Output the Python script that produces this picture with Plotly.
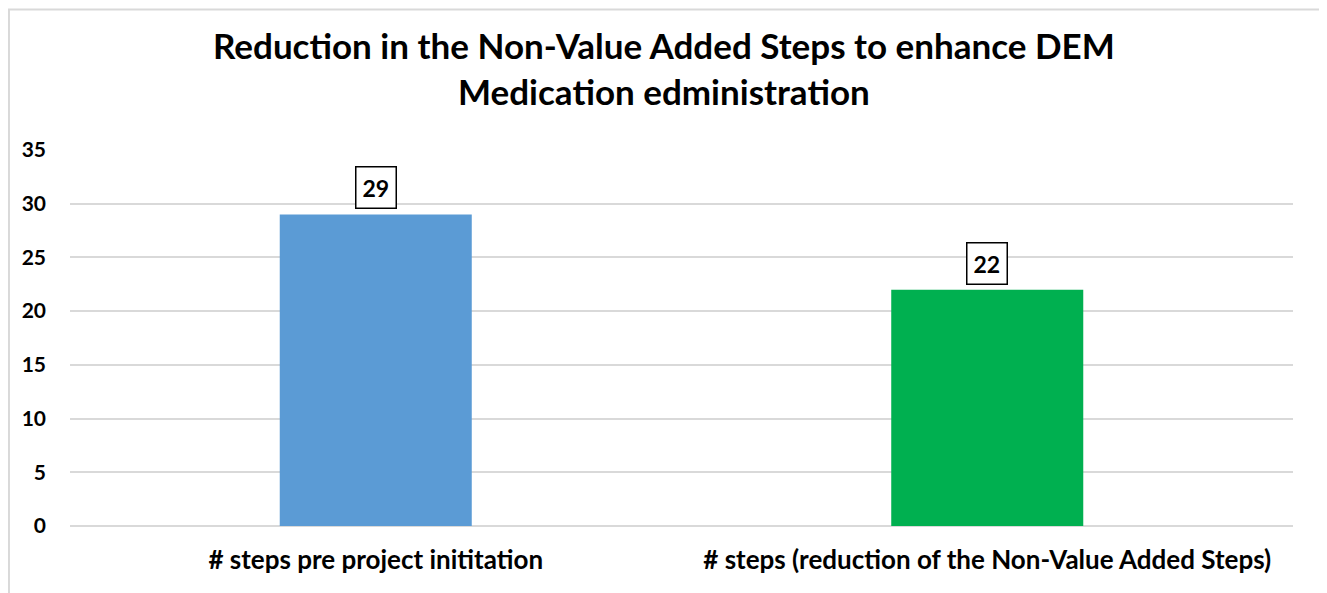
import plotly.graph_objects as go

categories = ["# steps pre project inititation", "# steps (reduction of the Non-Value Added Steps)"]
values = [29, 22]
bar_colors = ["#5B9BD5", "#00B050"]
y_ticks = [0, 5, 10, 15, 20, 25, 30, 35]
title_text = "Reduction in the Non-Value Added Steps to enhance DEM<br>Medication edministration"

FONT = "Lato, 'Open Sans', sans-serif"

fig = go.Figure()
fig.add_trace(go.Bar(
    x=categories, y=values,
    marker=dict(color=bar_colors, line=dict(width=0)),
    width=0.314,
    hoverinfo="x+y",
))

for c, v in zip(categories, values):
    fig.add_annotation(
        x=c, y=v, xref="x", yref="y",
        text=str(v), showarrow=False,
        yanchor="bottom", yshift=5,
        font=dict(family=FONT, size=23, color="black", weight="bold"),
        bordercolor="black", borderwidth=1.5, borderpad=6,
        bgcolor="white",
    )

# title as an annotation (handles multi-line anchoring reliably)
fig.add_annotation(
    x=0.4857, y=1.34, xref="paper", yref="paper",
    xanchor="center", yanchor="top", showarrow=False,
    text=title_text, align="center",
    font=dict(family=FONT, size=35, color="black", weight="bold"),
)

fig.add_shape(type="rect", xref="paper", yref="paper",
              x0=-0.0499, x1=1.0229, y0=-0.2, y1=1.374,
              line=dict(color="#D9D9D9", width=2), fillcolor="rgba(0,0,0,0)",
              layer="above")

fig.update_layout(
    width=1319, height=585,
    margin=dict(l=62, r=34, t=142, b=67),
    paper_bgcolor="white", plot_bgcolor="white",
    showlegend=False,
    xaxis=dict(
        showgrid=False, showline=False, ticks="",
        tickfont=dict(family=FONT, size=26, color="black", weight="bold"),
        ticklabelstandoff=16,
    ),
    yaxis=dict(
        range=[0, 35], tickvals=y_ticks,
        showgrid=True, gridcolor="#D9D9D9", gridwidth=1.5,
        zeroline=True, zerolinecolor="#D9D9D9", zerolinewidth=1.5,
        showline=False, ticks="",
        tickfont=dict(family=FONT, size=21, color="black", weight="bold"),
        ticklabelstandoff=23,
    ),
    font=dict(family=FONT),
)

fig.write_html("out.html")
